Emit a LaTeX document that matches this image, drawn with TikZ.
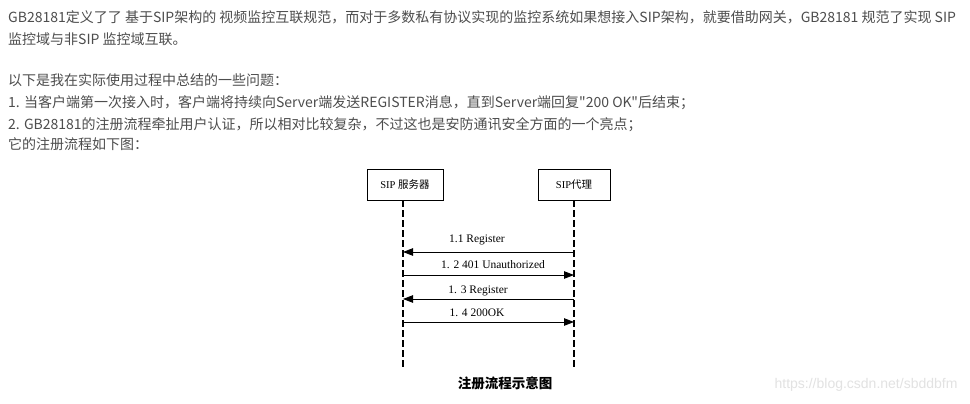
\documentclass[tikz,border=0pt]{standalone}
\usepackage{fontspec}
\usepackage{tikz}
\usepackage{xcolor}
\usetikzlibrary{arrows.meta, positioning}
\newfontfamily\pagefont{Noto Sans CJK SC}
\newfontfamily\figfont{Liberation Serif}
\newfontfamily\figcjk{Noto Sans CJK SC}
\newfontfamily\markfont{Liberation Sans}
\definecolor{pagetext}{HTML}{4D4D4D}
\definecolor{marktext}{HTML}{E2E2E2}
\tikzset{
    para/.style={anchor=base west, inner sep=0pt, text=pagetext, font=\pagefont\fontsize{14}{16}\selectfont},
    actor/.style={draw, line width=0.7pt, minimum width=#1, minimum height=31pt, inner sep=0pt, font=\figfont\fontsize{10.5}{12}\selectfont},
    lifeline/.style={line width=1.3pt, dash pattern=on 7pt off 3pt},
    msg/.style={line width=0.9pt, -{Triangle[length=10pt,width=7.5pt]}},
    msglabel/.style={inner sep=0pt, font=\figfont\fontsize{11.5}{13}\selectfont}
}

\begin{document}
\begin{tikzpicture}[x=1pt, y=-1pt]
    \useasboundingbox[fill=white] (0,0) rectangle (970,404);

    % Page text
    \node[para] (l1) at (8,23) {GB28181定义了了 基于SIP架构的 视频监控互联规范，而对于多数私有协议实现的监控系统如果想接入SIP架构，就要借助网关，GB28181 规范了实现 SIP};
    \node[para] (l2) at (8,45) {监控域与非SIP 监控域互联。};
    \node[para] (l3) at (8,86) {以下是我在实际使用过程中总结的一些问题：};
    \node[para] (l4) at (8,107) {1. 当客户端第一次接入时，客户端将持续向Server端发送REGISTER消息，直到Server端回复"200 OK"后结束；};
    \node[para] (l5) at (8,129) {2. GB28181的注册流程牵扯用户认证，所以相对比较复杂，不过这也是安防通讯安全方面的一个亮点；};
    \node[para] (l6) at (8,149) {它的注册流程如下图：};

    % Actors and lifelines
    \node[actor=76pt] (srv) at (405,184.5) {SIP {\figcjk 服务器}};
    \node[actor=72pt] (agt) at (574,184.5) {SIP{\figcjk 代理}};
    \coordinate (srvEnd) at (403,370);
    \coordinate (agtEnd) at (574,370);
    \draw[lifeline] (403,200) -- (srvEnd);
    \draw[lifeline] (agt.south) -- (agtEnd);

    % Messages
    \foreach \n/\y in {1/252, 2/275, 3/299, 4/322} {
        \coordinate (s\n) at (403,\y);
        \coordinate (a\n) at (574,\y);
    }
    \draw[msg] (a1) -- (s1);
    \draw[msg] (s2) -- (a2);
    \draw[msg] (a3) -- (s3);
    \draw[msg] (s4) -- (a4);
    \node[msglabel] (m1) at (477,240) {1.1 Register};
    \node[msglabel] (m2) at (493,265) {1. 2 401 Unauthorized};
    \node[msglabel] (m3) at (478,291) {1. 3 Register};
    \node[msglabel] (m4) at (477,313) {1. 4 200OK};

    % Caption and watermark
    \node[font=\figcjk\bfseries\fontsize{13.5}{15}\selectfont] (cap) at (505,383) {注册流程示意图};
    \node[anchor=east, text=marktext, font=\markfont\fontsize{14}{16}\selectfont] (mark) at (961,385) {https://blog.csdn.net/sbddbfm};
\end{tikzpicture}
\end{document}
